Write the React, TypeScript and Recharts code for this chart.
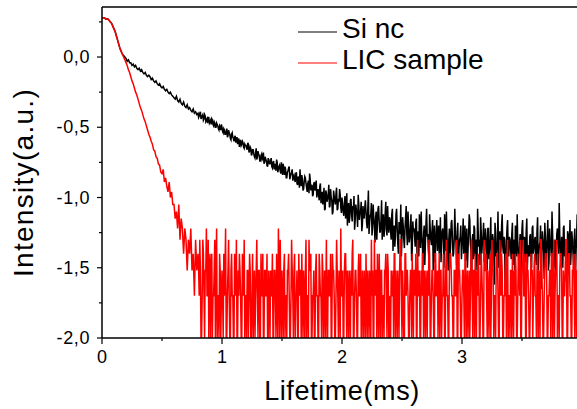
import React from 'react';
import { LineChart, Line, XAxis, YAxis, Legend } from 'recharts';

// main sampling grid: 0 .. 4 ms every 0.01 ms (401 samples)
const STEP_MS = 0.01;
// extra in-between samples of the noisy tail: 0.805 .. 3.995 ms every 0.01 ms (320 samples)
const MID_START_MS = 0.805;

const xTicks = [0, 0.5, 1, 1.5, 2, 2.5, 3, 3.5, 4];
const yTicks = [-2, -1.75, -1.5, -1.25, -1, -0.75, -0.5, -0.25, 0, 0.25];
const seriesNames = ['Si nc', 'LIC sample'];
const seriesColors = ['#000000', '#ff0000'];

// log intensity, Si nc (black), main grid
const siNc = [
  0.28, 0.28, 0.28, 0.27, 0.27, 0.27, 0.26, 0.25, 0.24, 0.22, 0.2, 0.18, 0.15, 0.12, 0.09, 0.06, 0.04, 0.02, 0.01, 0.0,
  -0.01, -0.03, -0.02, -0.04, -0.04, -0.06, -0.05, -0.07, -0.06, -0.08, -0.09, -0.08, -0.1, -0.09, -0.11, -0.12, -0.11, -0.13, -0.14, -0.13,
  -0.14, -0.16, -0.15, -0.17, -0.18, -0.17, -0.19, -0.2, -0.19, -0.21, -0.22, -0.21, -0.23, -0.24, -0.23, -0.25, -0.26, -0.25, -0.27, -0.28,
  -0.29, -0.3, -0.28, -0.31, -0.32, -0.3, -0.33, -0.34, -0.32, -0.35, -0.36, -0.34, -0.37, -0.36, -0.38, -0.39, -0.37, -0.4, -0.39, -0.41,
  -0.4, -0.42, -0.39, -0.43, -0.41, -0.44, -0.42, -0.45, -0.47, -0.43, -0.46, -0.48, -0.45, -0.49, -0.47, -0.5, -0.48, -0.51, -0.49, -0.52,
  -0.5, -0.54, -0.52, -0.55, -0.51, -0.56, -0.54, -0.58, -0.55, -0.57, -0.6, -0.56, -0.59, -0.62, -0.58, -0.61, -0.63, -0.6, -0.64, -0.62,
  -0.63, -0.66, -0.62, -0.67, -0.65, -0.69, -0.66, -0.71, -0.68, -0.73, -0.67, -0.7, -0.74, -0.69, -0.72, -0.76, -0.71, -0.74, -0.78, -0.73,
  -0.76, -0.72, -0.79, -0.74, -0.78, -0.81, -0.75, -0.8, -0.77, -0.83, -0.79, -0.76, -0.84, -0.8, -0.86, -0.81, -0.78, -0.85, -0.82, -0.88,
  -0.84, -0.89, -0.82, -0.91, -0.86, -0.8, -0.92, -0.87, -0.94, -0.85, -0.9, -0.96, -0.88, -0.83, -0.95, -0.91, -0.98, -0.89, -0.93, -1.0,
  -0.94, -1.02, -0.9, -0.99, -1.05, -0.93, -1.08, -0.97, -1.01, -0.91, -1.06, -1.0, -1.12, -0.95, -1.03, -0.97, -1.09, -1.01, -0.94, -1.07,
  -1.0, -1.1, -1.04, -1.15, -0.97, -1.08, -1.18, -1.02, -1.12, -1.06, -0.99, -1.16, -1.09, -1.21, -1.05, -1.11, -1.03, -1.19, -1.13, -1.07,
  -1.1, -1.22, -0.95, -1.18, -1.12, -1.27, -1.05, -1.2, -1.14, -1.3, -1.08, -1.17, -1.24, -1.02, -1.19, -1.28, -1.11, -1.23, -1.06, -1.25,
  -1.15, -1.3, -1.08, -1.24, -1.35, -1.12, -1.22, -1.4, -1.18, -1.05, -1.28, -1.2, -1.36, -1.14, -1.26, -1.1, -1.32, -1.22, -1.45, -1.17,
  -1.22, -1.35, -1.15, -1.3, -1.42, -1.2, -1.1, -1.33, -1.26, -1.48, -1.18, -1.28, -1.38, -1.12, -1.3, -1.24, -1.52, -1.2, -1.34, -1.16,
  -1.27, -1.4, -1.14, -1.32, -1.22, -1.5, -1.26, -1.1, -1.36, -1.3, -1.44, -1.18, -1.28, -1.4, -1.08, -1.32, -1.24, -1.55, -1.3, -1.2,
  -1.36, -1.15, -1.3, -1.45, -1.22, -1.38, -1.12, -1.33, -1.6, -1.26, -1.2, -1.42, -1.3, -1.08, -1.35, -1.48, -1.24, -1.32, -1.18, -1.4,
  -1.28, -1.52, -1.22, -1.36, -1.14, -1.4, -1.3, -1.62, -1.25, -1.38, -1.1, -1.33, -1.46, -1.2, -1.35, -1.28, -1.7, -1.32, -1.16, -1.42,
  -1.3, -1.44, -1.18, -1.36, -1.52, -1.24, -1.12, -1.4, -1.32, -1.58, -1.22, -1.38, -1.28, -1.46, -1.15, -1.34, -1.42, -1.26, -1.5, -1.2,
  -1.36, -1.28, -1.48, -1.14, -1.4, -1.32, -1.65, -1.24, -1.38, -1.18, -1.44, -1.3, -1.52, -1.22, -1.36, -1.1, -1.42, -1.34, -1.56, -1.26,
  -1.32, -1.04, -1.4, -1.28, -1.5, -1.2, -1.36, -1.6, -1.24, -1.44, -1.16, -1.38, -1.3, -1.48, -1.22, -1.4, -1.12, -1.34, -1.54, -1.26,
  -1.38,
];

// log intensity, Si nc (black), in-between tail samples
const siNcMid = [
  -0.43, -0.4, -0.44, -0.42, -0.45, -0.41, -0.46, -0.44, -0.43, -0.47, -0.45, -0.44, -0.48, -0.46, -0.5, -0.47, -0.49, -0.52, -0.5, -0.48,
  -0.53, -0.51, -0.55, -0.53, -0.57, -0.52, -0.55, -0.59, -0.54, -0.58, -0.57, -0.61, -0.57, -0.6, -0.64, -0.59, -0.62, -0.61, -0.65, -0.63,
  -0.65, -0.61, -0.68, -0.64, -0.7, -0.66, -0.69, -0.72, -0.65, -0.71, -0.69, -0.74, -0.7, -0.73, -0.68, -0.75, -0.73, -0.77, -0.72, -0.76,
  -0.74, -0.78, -0.75, -0.8, -0.76, -0.73, -0.82, -0.78, -0.81, -0.75, -0.84, -0.8, -0.78, -0.86, -0.82, -0.79, -0.87, -0.83, -0.8, -0.85,
  -0.87, -0.83, -0.9, -0.85, -0.93, -0.88, -0.84, -0.95, -0.89, -0.86, -0.93, -0.9, -0.97, -0.87, -0.92, -0.99, -0.9, -0.95, -0.88, -0.97,
  -0.98, -0.92, -1.04, -0.96, -1.0, -1.09, -0.95, -1.03, -0.98, -1.07, -0.94, -1.02, -1.1, -0.99, -1.05, -0.93, -1.08, -1.03, -0.98, -1.11,
  -1.05, -1.13, -0.99, -1.09, -1.2, -1.04, -1.14, -1.01, -1.17, -1.08, -1.23, -1.05, -1.12, -0.98, -1.16, -1.1, -1.24, -1.06, -1.15, -1.02,
  -1.18, -1.08, -1.26, -1.13, -1.04, -1.21, -1.15, -1.32, -1.1, -1.19, -1.06, -1.25, -1.16, -1.3, -1.12, -1.22, -1.03, -1.27, -1.18, -1.14,
  -1.24, -1.12, -1.38, -1.2, -1.28, -1.08, -1.33, -1.18, -1.26, -1.42, -1.14, -1.3, -1.22, -1.06, -1.34, -1.2, -1.28, -1.12, -1.38, -1.24,
  -1.28, -1.18, -1.4, -1.24, -1.12, -1.36, -1.28, -1.5, -1.2, -1.32, -1.08, -1.26, -1.44, -1.22, -1.34, -1.16, -1.3, -1.46, -1.24, -1.38,
  -1.2, -1.34, -1.46, -1.24, -1.3, -1.12, -1.38, -1.28, -1.52, -1.22, -1.34, -1.16, -1.42, -1.3, -1.26, -1.48, -1.18, -1.36, -1.28, -1.44,
  -1.28, -1.4, -1.2, -1.34, -1.5, -1.26, -1.16, -1.38, -1.3, -1.44, -1.22, -1.36, -1.52, -1.24, -1.3, -1.14, -1.4, -1.28, -1.46, -1.22,
  -1.34, -1.22, -1.44, -1.3, -1.56, -1.26, -1.38, -1.18, -1.42, -1.32, -1.5, -1.24, -1.36, -1.12, -1.4, -1.3, -1.48, -1.22, -1.38, -1.28,
  -1.36, -1.26, -1.48, -1.3, -1.2, -1.42, -1.34, -1.54, -1.26, -1.38, -1.16, -1.44, -1.32, -1.24, -1.5, -1.36, -1.28, -1.46, -1.22, -1.4,
  -1.3, -1.44, -1.24, -1.52, -1.34, -1.2, -1.4, -1.3, -1.58, -1.28, -1.36, -1.16, -1.46, -1.32, -1.42, -1.26, -1.5, -1.3, -1.38, -1.22,
  -1.4, -1.28, -1.46, -1.32, -1.22, -1.42, -1.3, -1.52, -1.26, -1.36, -1.48, -1.24, -1.4, -1.3, -1.56, -1.28, -1.38, -1.2, -1.44, -1.34,
];

// log intensity, LIC sample (red), main grid
const licSample = [
  0.28, 0.28, 0.28, 0.27, 0.27, 0.27, 0.26, 0.25, 0.24, 0.22, 0.2, 0.18, 0.15, 0.12, 0.09, 0.06, 0.04, 0.02, 0.0, -0.02,
  -0.04, -0.06, -0.09, -0.11, -0.14, -0.17, -0.19, -0.22, -0.25, -0.27, -0.3, -0.33, -0.36, -0.38, -0.41, -0.44, -0.46, -0.49, -0.52, -0.55,
  -0.57, -0.6, -0.62, -0.66, -0.67, -0.71, -0.72, -0.76, -0.77, -0.82, -0.83, -0.8, -0.89, -0.86, -0.92, -0.96, -0.89, -1.0, -0.96, -1.05,
  -1.05, -1.15, -1.1, -1.22, -1.05, -1.3, -1.15, -1.22, -1.4, -1.22, -1.3, -1.52, -1.3, -1.4, -1.22, -1.52, -1.4, -1.7, -1.3, -1.52,
  -1.4, -1.7, -1.52, -2.0, -1.3, -1.7, -1.52, -1.22, -1.7, -2.0, -1.4, -1.52, -2.0, -1.7, -1.3, -1.52, -2.0, -1.7, -1.4, -2.0,
  -1.52, -2.0, -1.7, -1.22, -2.0, -1.52, -1.7, -2.0, -1.4, -1.7, -2.0, -1.52, -1.3, -2.0, -1.7, -1.52, -2.0, -1.4, -1.7, -2.0,
  -1.7, -1.52, -2.0, -1.4, -2.0, -1.7, -2.0, -1.52, -1.7, -1.3, -2.0, -1.52, -2.0, -1.7, -1.4, -2.0, -1.52, -1.7, -2.0, -1.52,
  -2.0, -1.7, -1.4, -2.0, -1.52, -2.0, -1.7, -1.22, -2.0, -1.7, -1.52, -2.0, -1.4, -1.7, -2.0, -1.52, -1.7, -2.0, -1.3, -1.7,
  -1.52, -2.0, -1.7, -2.0, -1.4, -1.52, -2.0, -1.7, -1.52, -2.0, -1.3, -1.7, -2.0, -1.52, -1.4, -2.0, -1.7, -2.0, -1.52, -1.7,
  -2.0, -1.4, -1.7, -2.0, -1.52, -1.7, -2.0, -1.3, -2.0, -1.52, -1.7, -2.0, -1.4, -1.52, -2.0, -1.7, -1.52, -2.0, -1.7, -1.22,
  -1.7, -2.0, -1.52, -1.4, -2.0, -1.7, -1.52, -2.0, -1.7, -1.3, -2.0, -1.52, -1.7, -2.0, -1.4, -1.7, -2.0, -1.52, -2.0, -1.7,
  -1.4, -2.0, -1.7, -1.52, -2.0, -1.7, -2.0, -1.3, -1.52, -2.0, -1.7, -1.4, -2.0, -1.52, -1.7, -2.0, -1.52, -1.7, -1.4, -2.0,
  -2.0, -1.52, -1.7, -2.0, -1.4, -1.52, -2.0, -1.7, -1.52, -1.3, -2.0, -1.7, -2.0, -1.4, -1.52, -1.7, -2.0, -1.52, -2.0, -1.7,
  -1.52, -1.7, -2.0, -1.3, -1.7, -2.0, -1.52, -1.4, -2.0, -1.7, -1.52, -2.0, -1.7, -1.4, -2.0, -1.52, -1.7, -2.0, -1.4, -1.7,
  -2.0, -1.4, -1.52, -2.0, -1.7, -1.52, -2.0, -1.3, -1.7, -2.0, -1.4, -1.52, -1.7, -2.0, -1.52, -1.7, -2.0, -1.4, -1.52, -2.0,
  -1.7, -1.52, -2.0, -1.4, -1.7, -2.0, -1.52, -1.7, -1.3, -2.0, -1.52, -1.4, -2.0, -1.7, -1.52, -2.0, -1.4, -1.7, -2.0, -1.52,
  -1.4, -2.0, -1.7, -1.52, -2.0, -1.3, -1.52, -1.7, -2.0, -1.4, -1.7, -2.0, -1.52, -1.4, -2.0, -1.7, -1.52, -2.0, -1.3, -1.7,
  -2.0, -1.52, -1.4, -2.0, -1.7, -1.52, -2.0, -1.4, -1.7, -2.0, -1.52, -1.3, -1.7, -2.0, -1.4, -1.52, -2.0, -1.7, -1.52, -2.0,
  -1.52, -1.7, -2.0, -1.4, -1.52, -2.0, -1.3, -1.7, -2.0, -1.52, -1.4, -2.0, -1.7, -1.52, -2.0, -1.4, -1.7, -2.0, -1.52, -1.3,
  -1.7, -2.0, -1.4, -1.52, -2.0, -1.7, -1.52, -1.3, -2.0, -1.4, -1.7, -2.0, -1.52, -1.4, -2.0, -1.7, -1.52, -2.0, -1.4, -1.7,
  -1.52,
];

// log intensity, LIC sample (red), in-between tail samples
const licSampleMid = [
  -1.52, -1.3, -2.0, -1.7, -1.4, -2.0, -1.52, -1.7, -1.3, -1.52, -2.0, -1.4, -1.7, -1.52, -2.0, -1.22, -1.7, -2.0, -1.52, -1.7,
  -1.7, -1.4, -1.52, -2.0, -1.7, -1.3, -2.0, -1.52, -1.7, -2.0, -1.4, -1.7, -2.0, -1.52, -1.4, -1.7, -2.0, -1.52, -1.3, -1.7,
  -2.0, -1.52, -1.7, -1.52, -2.0, -1.4, -1.7, -2.0, -1.52, -1.7, -1.52, -2.0, -1.4, -1.7, -2.0, -1.52, -1.7, -1.4, -2.0, -1.7,
  -1.52, -1.7, -2.0, -1.52, -1.7, -1.4, -2.0, -1.52, -1.3, -2.0, -1.7, -1.52, -2.0, -1.7, -1.52, -1.4, -2.0, -1.7, -1.52, -2.0,
  -1.4, -1.7, -1.52, -2.0, -1.7, -1.52, -1.4, -2.0, -1.7, -1.52, -2.0, -1.7, -1.3, -1.52, -2.0, -1.7, -1.52, -2.0, -1.4, -1.7,
  -2.0, -1.52, -1.7, -1.4, -2.0, -1.52, -1.7, -2.0, -1.52, -1.7, -1.4, -2.0, -1.52, -1.7, -2.0, -1.3, -1.7, -1.52, -2.0, -1.7,
  -1.52, -2.0, -1.4, -1.7, -1.52, -2.0, -1.7, -1.52, -1.4, -2.0, -1.7, -1.52, -2.0, -1.52, -1.7, -1.4, -2.0, -1.7, -1.52, -2.0,
  -1.7, -1.52, -2.0, -1.7, -1.3, -1.52, -2.0, -1.7, -1.52, -1.4, -2.0, -1.7, -1.52, -2.0, -1.7, -1.52, -1.4, -2.0, -1.52, -1.7,
  -2.0, -1.7, -1.52, -1.4, -2.0, -1.7, -1.52, -2.0, -1.3, -1.7, -1.52, -2.0, -1.4, -1.7, -1.52, -2.0, -1.7, -1.52, -1.4, -2.0,
  -1.52, -1.4, -2.0, -1.7, -1.52, -2.0, -1.7, -1.4, -1.52, -2.0, -1.7, -1.52, -1.3, -2.0, -1.7, -1.52, -2.0, -1.4, -1.7, -1.52,
  -1.7, -2.0, -1.52, -1.7, -1.4, -2.0, -1.52, -1.7, -2.0, -1.52, -1.4, -1.7, -2.0, -1.52, -1.7, -1.3, -2.0, -1.52, -1.7, -2.0,
  -1.52, -1.7, -1.4, -2.0, -1.52, -1.7, -2.0, -1.4, -1.7, -1.52, -2.0, -1.7, -1.52, -1.4, -2.0, -1.7, -1.52, -2.0, -1.3, -1.52,
  -1.7, -1.52, -2.0, -1.4, -1.7, -1.52, -2.0, -1.7, -1.52, -1.4, -2.0, -1.3, -1.7, -1.52, -2.0, -1.7, -1.4, -1.52, -2.0, -1.7,
  -1.52, -2.0, -1.7, -1.52, -1.4, -2.0, -1.7, -1.52, -1.3, -2.0, -1.52, -1.7, -1.4, -2.0, -1.52, -1.7, -2.0, -1.4, -1.52, -1.7,
  -1.4, -1.7, -1.52, -2.0, -1.7, -1.3, -1.52, -2.0, -1.7, -1.4, -1.52, -2.0, -1.7, -1.52, -1.4, -2.0, -1.3, -1.7, -1.52, -2.0,
  -1.7, -1.52, -1.4, -2.0, -1.52, -1.7, -1.3, -2.0, -1.52, -1.4, -1.7, -2.0, -1.52, -1.7, -1.4, -2.0, -1.52, -1.3, -1.7, -1.52,
];

const round3 = (n: number) => Math.round(n * 1000) / 1000;

const data = [
  ...siNc.map((v, i) => ({ t: round3(i * STEP_MS), si: v, lic: licSample[i] })),
  ...siNcMid.map((v, i) => ({ t: round3(MID_START_MS + i * STEP_MS), si: v, lic: licSampleMid[i] })),
].sort((a, b) => a.t - b.t);

const FONT = '"Liberation Sans", Arial, sans-serif';

const XTick = ({ x, y, payload }: any) => {
  const major = Number.isInteger(payload.value);
  return (
    <g>
      <line x1={x} x2={x} y1={y} y2={y + (major ? 6 : 3)} stroke="#000" strokeWidth={1.2} />
      {major && (
        <text x={x} y={y + 25} textAnchor="middle" fontSize={18} fontFamily={FONT} fill="#000">
          {payload.value}
        </text>
      )}
    </g>
  );
};

const YTick = ({ x, y, payload }: any) => {
  const v = payload.value;
  const major = Math.abs(v * 2 - Math.round(v * 2)) < 1e-6;
  return (
    <g>
      <line x1={x} x2={x - (major ? 5 : 3)} y1={y} y2={y} stroke="#000" strokeWidth={1.2} />
      {major && (
        <text x={x - 12} y={y + 6} textAnchor="end" fontSize={18} letterSpacing={0.6} fontFamily={FONT} fill="#000">
          {v.toFixed(1).replace('.', ',')}
        </text>
      )}
    </g>
  );
};

const YTitle = (props: any) => {
  const vb = props.viewBox || { x: 0, y: 7, width: 102, height: 331 };
  const cx = 33;
  const cy = vb.y + vb.height / 2 + 10;
  return (
    <text
      x={cx}
      y={cy}
      transform={`rotate(-90 ${cx} ${cy})`}
      textAnchor="middle"
      fontSize={28}
      letterSpacing={1.3}
      fontFamily={FONT}
      fill="#000"
    >
      Intensity(a.u.)
    </text>
  );
};

const LegendBox = () => (
  <svg width={200} height={80}>
    {seriesNames.map((name, i) => (
      <g key={name}>
        <line x1={2} x2={41} y1={32 + i * 31} y2={32 + i * 31} stroke={seriesColors[i]} strokeWidth={1.2} />
        <text x={46} y={37.5 + i * 31.5} fontSize={28} fontFamily={FONT} fill="#000">
          {name}
        </text>
      </g>
    ))}
  </svg>
);

export default function App() {
  return (
    <div
      style={{
        position: 'absolute',
        left: 0,
        top: 0,
        width: 577,
        height: 409,
        overflow: 'hidden',
        background: '#fff',
        fontFamily: FONT,
      }}
    >
      <LineChart width={600} height={409} data={data} margin={{ top: 6, right: 18, bottom: 0, left: 0 }}>
        <XAxis
          dataKey="t"
          type="number"
          domain={[0, 4]}
          ticks={xTicks}
          interval={0}
          height={71}
          tickSize={0}
          tickMargin={0}
          tickLine={false}
          tick={(p: any) => <XTick {...p} />}
          axisLine={{ stroke: '#000', strokeWidth: 1.5 }}
          allowDataOverflow
          label={{
            value: 'Lifetime(ms)',
            position: 'insideBottom',
            offset: 9,
            fontSize: 27,
            letterSpacing: 0.6,
            fill: '#000',
            fontFamily: FONT,
          }}
        />
        <XAxis
          xAxisId="top"
          orientation="top"
          dataKey="t"
          type="number"
          domain={[0, 4]}
          ticks={xTicks}
          interval={0}
          height={1}
          tickSize={3}
          tick={false}
          tickLine={{ stroke: '#000' }}
          axisLine={{ stroke: '#000', strokeWidth: 1.5 }}
        />
        <YAxis
          type="number"
          domain={[-2, 0.356]}
          ticks={yTicks}
          interval={0}
          width={102}
          tickSize={0}
          tickMargin={0}
          tickLine={false}
          tick={(p: any) => <YTick {...p} />}
          axisLine={{ stroke: '#000', strokeWidth: 1.5 }}
          allowDataOverflow
          label={YTitle}
        />
        <Legend
          layout="vertical"
          align="center"
          verticalAlign="middle"
          content={LegendBox}
          wrapperStyle={{ left: 296, top: 0, width: 200, height: 80 }}
        />
        <Line
          type="linear"
          dataKey="si"
          name={seriesNames[0]}
          stroke={seriesColors[0]}
          strokeWidth={1.5}
          dot={false}
          isAnimationActive={false}
        />
        <Line
          type="linear"
          dataKey="lic"
          name={seriesNames[1]}
          stroke={seriesColors[1]}
          strokeWidth={1.5}
          dot={false}
          isAnimationActive={false}
        />
      </LineChart>
    </div>
  );
}
